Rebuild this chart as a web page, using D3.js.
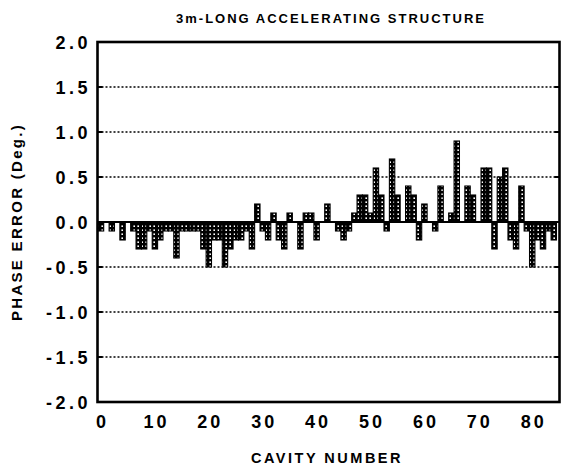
<!DOCTYPE html>
<html><head><meta charset="utf-8">
<script src="https://cdn.jsdelivr.net/npm/d3@7"></script>
<style>
body{margin:0;background:#fff}
svg{display:block}
text{font-family:"Liberation Sans",Arial,Helvetica,sans-serif;font-weight:bold;fill:#000}
</style>
</head><body>
<svg id="c" width="562" height="466"></svg>
<script>
const titleText = "3m-LONG ACCELERATING STRUCTURE";
const xTitle = "CAVITY NUMBER";
const yTitle = "PHASE ERROR (Deg.)";
const xTickValues = [0, 10, 20, 30, 40, 50, 60, 70, 80];
const yTickValues = [2.0, 1.5, 1.0, 0.5, 0.0, -0.5, -1.0, -1.5, -2.0];
const gridValues = [1.5, 1.0, 0.5, -0.5, -1.0, -1.5];
// phase error per cavity, cavity 0..84
const phaseError = [
  -0.1, 0, -0.1, 0, -0.2, 0, -0.1, -0.3, -0.3, -0.1,
  -0.3, -0.2, -0.1, -0.1, -0.4, -0.1, -0.1, -0.1, -0.1, -0.3,
  -0.5, -0.2, -0.2, -0.5, -0.3, -0.2, -0.2, -0.1, -0.3, 0.2,
  -0.1, -0.2, 0.1, -0.2, -0.3, 0.1, 0, -0.3, 0.1, 0.1,
  -0.2, 0, 0.2, 0, -0.1, -0.2, -0.1, 0.1, 0.3, 0.3,
  0.1, 0.6, 0.3, -0.1, 0.7, 0.3, 0, 0.4, 0.3, -0.2,
  0.2, 0, -0.1, 0.4, 0, 0.1, 0.9, 0, 0.4, 0.3,
  0, 0.6, 0.6, -0.3, 0.5, 0.6, -0.2, -0.3, 0.4, -0.1,
  -0.5, -0.2, -0.3, -0.1, -0.2
];
const cavity = phaseError.map((d, i) => i);

const svg = d3.select("#c");
const L = 97.5, R = 559.5, T = 42, B = 402;
const x = d3.scaleLinear().domain([-0.65, 85.06]).range([L, R]);
const y = d3.scaleLinear().domain([-2, 2]).range([B, T]);

const defs = svg.append("defs");
const pat = defs.append("pattern").attr("id", "dots")
  .attr("patternUnits", "userSpaceOnUse").attr("width", 4).attr("height", 4);
pat.append("rect").attr("width", 4).attr("height", 4).attr("fill", "#000");
pat.append("rect").attr("x", 1.4).attr("y", 1.4).attr("width", 1.6).attr("height", 1.6).attr("fill", "#fff");

// grid
svg.append("g").selectAll("line").data(gridValues).join("line")
  .attr("x1", L).attr("x2", R)
  .attr("y1", d => y(d)).attr("y2", d => y(d))
  .attr("stroke", "#000").attr("stroke-width", 1.6)
  .attr("stroke-dasharray", "2,2");

// bars
svg.append("g").selectAll("rect").data(cavity.filter(i => phaseError[i] !== 0)).join("rect")
  .attr("x", i => x(i - 0.5))
  .attr("width", i => x(i + 0.5) - x(i - 0.5))
  .attr("y", i => y(Math.max(0, phaseError[i])))
  .attr("height", i => Math.abs(y(phaseError[i]) - y(0)))
  .attr("fill", "url(#dots)")
  .attr("stroke", "#000").attr("stroke-width", 1.1);

// zero line
svg.append("line").attr("x1", L).attr("x2", R).attr("y1", y(0)).attr("y2", y(0))
  .attr("stroke", "#000").attr("stroke-width", 2.2);

// frame
svg.append("rect").attr("x", L).attr("y", T).attr("width", R - L).attr("height", B - T)
  .attr("fill", "none").attr("stroke", "#000").attr("stroke-width", 2.6);

// inward ticks
const tk = svg.append("g");
tk.selectAll("line.l").data(yTickValues).join("line").attr("class", "l")
  .attr("x1", L).attr("x2", L + 5).attr("y1", d => y(d)).attr("y2", d => y(d))
  .attr("stroke", "#000").attr("stroke-width", 2);
tk.selectAll("line.r").data(yTickValues).join("line").attr("class", "r")
  .attr("x1", R - 5).attr("x2", R).attr("y1", d => y(d)).attr("y2", d => y(d))
  .attr("stroke", "#000").attr("stroke-width", 2);

// y labels
svg.append("g").selectAll("text").data(yTickValues).join("text")
  .attr("x", 91).attr("y", d => y(d) + 6.5)
  .attr("text-anchor", "end")
  .attr("font-size", 18).attr("letter-spacing", 3.5)
  .text(d => d3.format(".1f")(d).replace("−", "-"));

// x labels
svg.append("g").selectAll("text").data(xTickValues).join("text")
  .attr("x", d => x(d) + 1.5).attr("y", 428)
  .attr("text-anchor", "middle")
  .attr("font-size", 18).attr("letter-spacing", 3)
  .text(d => d);

// titles
svg.append("text").attr("x", 331).attr("y", 23).attr("text-anchor", "middle")
  .attr("font-size", 13).attr("letter-spacing", 2).text(titleText);
svg.append("text").attr("x", 327).attr("y", 463).attr("text-anchor", "middle")
  .attr("font-size", 14.5).attr("letter-spacing", 2.5).text(xTitle);
svg.append("text").attr("transform", "translate(22,222) rotate(-90)").attr("text-anchor", "middle")
  .attr("font-size", 15).attr("letter-spacing", 2.3).text(yTitle);
</script>
</body></html>
